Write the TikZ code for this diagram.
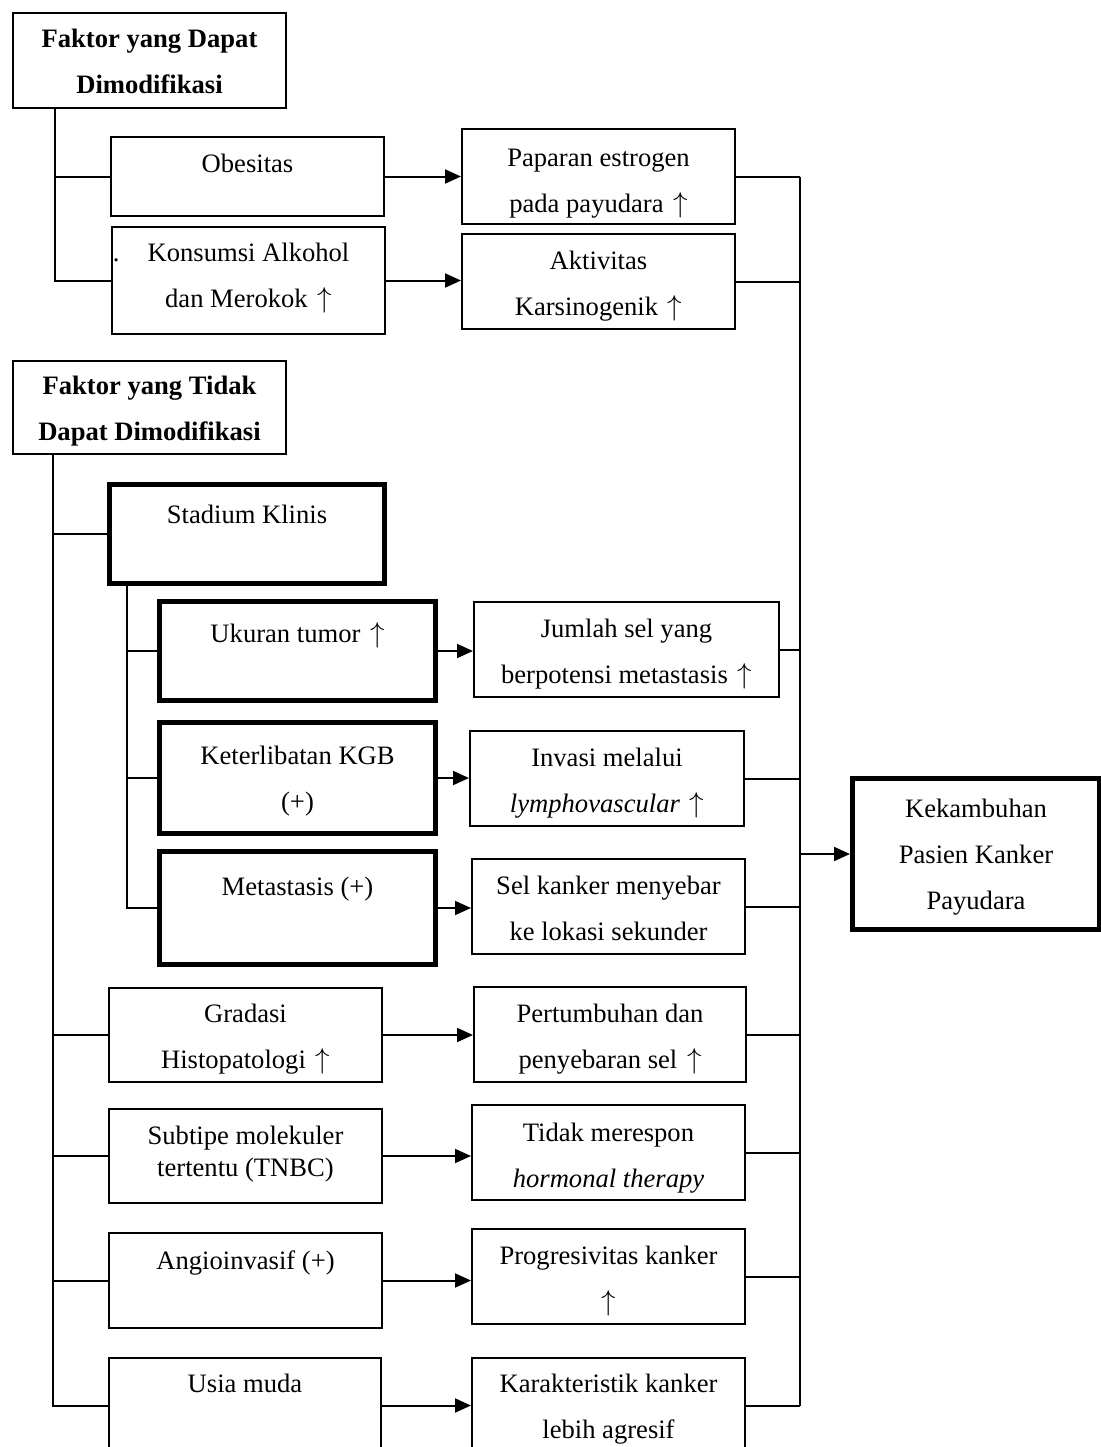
\documentclass[tikz,border=0pt]{standalone}
\usepackage{fontspec}
\setmainfont{Liberation Serif}
\usetikzlibrary{arrows.meta}
\newlength\px
\setlength\px{0.5pt}
\newcommand{\cell}[4][35]{\parbox[t][#3\px][t]{#2\px}{\centering\rule{0pt}{#1\px}#4}}
\newcommand{\up}{\kern1.5pt\ensuremath{\uparrow}}

\begin{document}
\begin{tikzpicture}[x=0.5pt, y=-0.5pt,
    box/.style={draw, line width=1pt, inner sep=0pt, anchor=north west},
    boxthick/.style={box, line width=2.5pt},
    link/.style={line width=1pt},
    arr/.style={line width=1pt, -{Triangle[length=8pt, width=7pt]}},
    font=\fontsize{13.3pt}{23pt}\selectfont]
    \useasboundingbox (0,0) rectangle (1101,1447);
    \fill[white] (0,0) rectangle (1101,1447);
    \clip (0,0) rectangle (1101,1447);

    \node[box] (fdm) at (12,12) {\cell[34]{273}{95}{\textbf{Faktor yang Dapat}\\\textbf{Dimodifikasi}}};
    \node[box] (obes) at (110,136) {\cell{273}{79}{Obesitas}};
    \node[box] (kons) at (111,226) {\cell[34]{273}{107}{\llap{.\hspace{14pt}}Konsumsi Alkohol\\dan Merokok \up}};
    \node[box] (pap) at (461,128) {\cell[37]{273}{95}{Paparan estrogen\\pada payudara \up}};
    \node[box] (akt) at (461,233) {\cell{273}{95}{Aktivitas\\Karsinogenik \up}};

    \node[box] (ftdm) at (12,360) {\cell[33]{273}{93}{\textbf{Faktor yang Tidak}\\\textbf{Dapat Dimodifikasi}}};
    \node[boxthick] (stad) at (107,482) {\cell[39]{275}{99}{Stadium Klinis}};
    \node[boxthick] (ukur) at (157,599) {\cell[41]{276}{99}{Ukuran tumor \up}};
    \node[boxthick] (ketr) at (157,720) {\cell[42]{276}{111}{Keterlibatan KGB\\(+)}};
    \node[boxthick] (meta) at (157,849) {\cell[44]{276}{113}{Metastasis (+)}};
    \node[box] (jml) at (473,601) {\cell{305}{95}{Jumlah sel yang\\berpotensi metastasis \up}};
    \node[box] (inv) at (469,730) {\cell{274}{95}{Invasi melalui\\\textit{lymphovascular} \up}};
    \node[box] (sel) at (471,858) {\cell{273}{95}{Sel kanker menyebar\\ke lokasi sekunder}};
    \node[box] (grad) at (108,987) {\cell[34]{273}{94}{Gradasi\\Histopatologi \up}};
    \node[box] (pert) at (473,986) {\cell{272}{95}{Pertumbuhan dan\\penyebaran sel \up}};
    \node[box] (subt) at (108,1108) {\cell{273}{94}{Subtipe molekuler\\[-7pt]tertentu (TNBC)}};
    \node[box] (tdk) at (471,1104) {\cell[36]{273}{95}{Tidak merespon\\\textit{hormonal therapy}}};
    \node[box] (angio) at (108,1232) {\cell[36]{273}{95}{Angioinvasif (+)}};
    \node[box] (prog) at (471,1228) {\cell{273}{95}{Progresivitas kanker\\\ensuremath{\uparrow}}};
    \node[box] (usia) at (108,1357) {\cell[34]{272}{95}{Usia muda}};
    \node[box] (karak) at (471,1357) {\cell[34]{273}{95}{Karakteristik kanker\\lebih agresif}};
    \node[boxthick] (kek) at (850,776) {\cell[39]{247}{151}{Kekambuhan\\Pasien Kanker\\Payudara}};

    \coordinate (lx1) at (55,0);
    \coordinate (lx2) at (53,0);
    \coordinate (lx3) at (127,0);
    \coordinate (rx) at (800,0);

    \draw[link] (fdm.south -| lx1) -- (kons.west -| lx1) -- (kons.west);
    \draw[link] (obes.west -| lx1) -- (obes.west);
    \draw[link] (ftdm.south -| lx2) -- (usia.west -| lx2) -- (usia.west);
    \foreach \n in {stad, grad, subt, angio}
        \draw[link] (\n.west -| lx2) -- (\n.west);
    \draw[link] (stad.south -| lx3) -- (meta.west -| lx3) -- (meta.west);
    \foreach \n in {ukur, ketr}
        \draw[link] (\n.west -| lx3) -- (\n.west);

    \foreach \a/\b in {obes/pap, kons/akt, ukur/jml, ketr/inv, meta/sel, grad/pert, subt/tdk, angio/prog, usia/karak}
        \draw[arr] (\a.east) -- (\a.east -| \b.west);

    \draw[link] (pap.east -| rx) -- (karak.east -| rx);
    \foreach \n in {pap, akt, jml, inv, sel, pert, tdk, prog, karak}
        \draw[link] (\n.east) -- (\n.east -| rx);
    \draw[arr] (kek.west -| rx) -- (kek.west);
\end{tikzpicture}
\end{document}
